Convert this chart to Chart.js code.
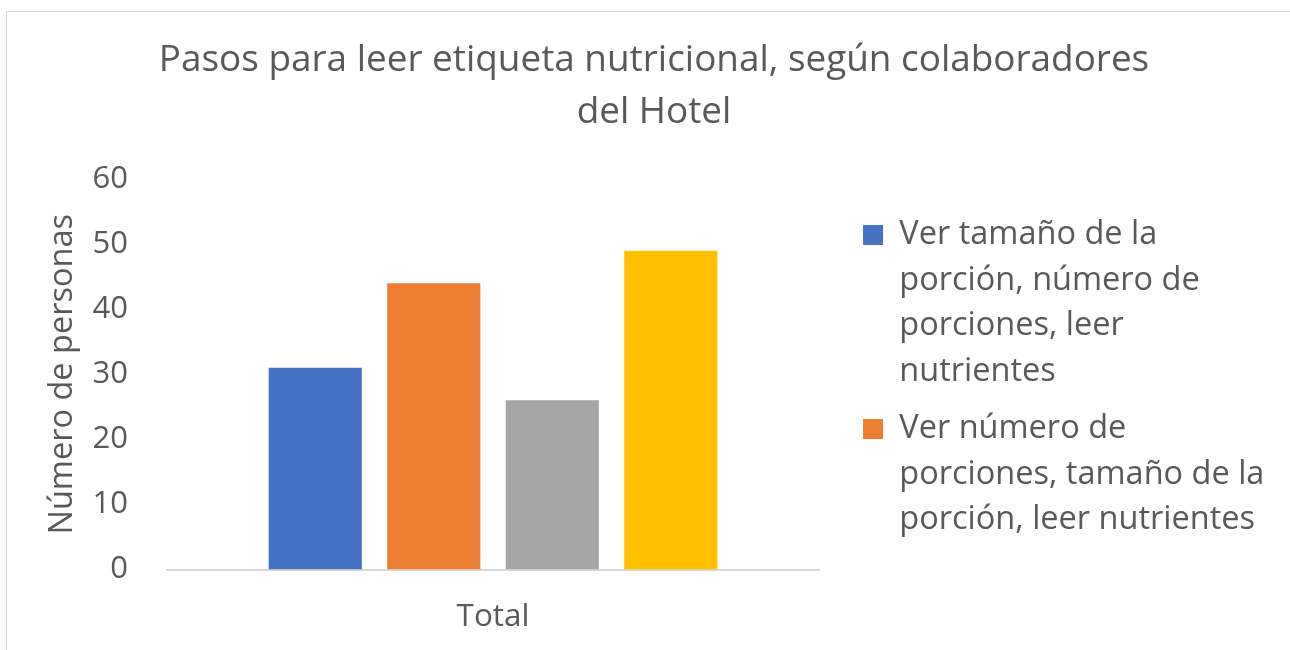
<!DOCTYPE html>
<html>
<head>
<meta charset="utf-8">
<script src="https://cdn.jsdelivr.net/npm/chart.js@4.4.1/dist/chart.umd.min.js"></script>
<style>
  html, body { margin: 0; padding: 0; background: #fff; }
  #wrap { position: relative; width: 1290px; height: 650px; overflow: hidden; }
  #frame { position: absolute; left: 6px; top: 11px; width: 1300px; height: 660px; border: 1px solid #d9d9d9; }
  #chart { position: absolute; left: 0; top: 0; }
</style>
</head>
<body>
<div id="wrap">
  <div id="frame"></div>
  <canvas id="chart" width="1290" height="650"></canvas>
</div>
<script>
// ---- data ----
const categories = ["Total"];
const seriesNames = [
    ["Ver tamaño de la", "porción, número de", "porciones, leer", "nutrientes"],
    ["Ver número de", "porciones, tamaño de la", "porción, leer nutrientes"],
    ["Serie 3"],
    ["Serie 4"]
];
const seriesValues = [31, 44, 26, 49];
const seriesColors = ["#4472c4", "#ed7d31", "#a5a5a5", "#ffc000"];
const yTicks = [0, 10, 20, 30, 40, 50, 60];
const titleLines = ["Pasos para leer etiqueta nutricional, según colaboradores", "del Hotel"];
const yTitle = "Número de personas";

Chart.defaults.font.family = "'Open Sans', sans-serif";
Chart.defaults.color = "#595959";

const datasets = seriesValues.map((v, i) => ({
    label: seriesNames[i].join(" "),
    data: [v],
    backgroundColor: seriesColors[i],
    borderWidth: 0,
    categoryPercentage: 0.727,
    barPercentage: 0.786
}));

new Chart(document.getElementById("chart"), {
    type: "bar",
    data: { labels: categories, datasets },
    options: {
        responsive: false,
        animation: false,
        layout: { padding: { left: 43, right: 25, top: 0, bottom: 13.5 } },
        plugins: {
            title: {
                display: true,
                text: titleLines,
                color: "#595959",
                font: { size: 36.9, weight: "normal", lineHeight: 1.41 },
                padding: { top: 34, bottom: 41 }
            },
            legend: {
                position: "right",
                align: "start",
                fullSize: false,
                maxWidth: 415,
                // empty title used only as top spacing
                title: { display: true, text: " ", font: { size: 1 }, padding: { top: 0, bottom: 26.5 } },
                labels: {
                    boxWidth: 20,
                    boxHeight: 20,
                    padding: 12,
                    color: "#595959",
                    font: { size: 32.5, lineHeight: 1.4 },
                    filter: (item) => item.datasetIndex < 2,
                    generateLabels: (chart) => chart.data.datasets.map((ds, i) => ({
                        text: seriesNames[i],
                        fillStyle: ds.backgroundColor,
                        strokeStyle: ds.backgroundColor,
                        lineWidth: 0,
                        datasetIndex: i,
                        hidden: false
                    }))
                }
            },
            tooltip: { enabled: false }
        },
        scales: {
            x: {
                grid: { display: false, drawTicks: false },
                border: { color: "#d9d9d9", width: 2 },
                ticks: { font: { size: 31.5 }, padding: 28.5 },
                afterFit: (s) => { s.height = 67; }
            },
            y: {
                min: 0,
                max: 60,
                afterBuildTicks: (s) => { s.ticks = yTicks.map(v => ({ value: v })); },
                grid: { display: false, drawTicks: false },
                border: { display: false },
                ticks: { font: { size: 31 }, padding: 39 },
                title: {
                    display: true,
                    text: yTitle,
                    font: { size: 32.5 },
                    padding: { top: 0, bottom: 10 }
                },
                afterFit: (s) => { s.width = 124; }
            },
            spacer: {
                type: "linear",
                position: "right",
                display: true,
                grid: { display: false, drawTicks: false },
                border: { display: false },
                ticks: { display: false },
                afterFit: (s) => { s.width = 32; }
            }
        }
    }
});
</script>
</body>
</html>
